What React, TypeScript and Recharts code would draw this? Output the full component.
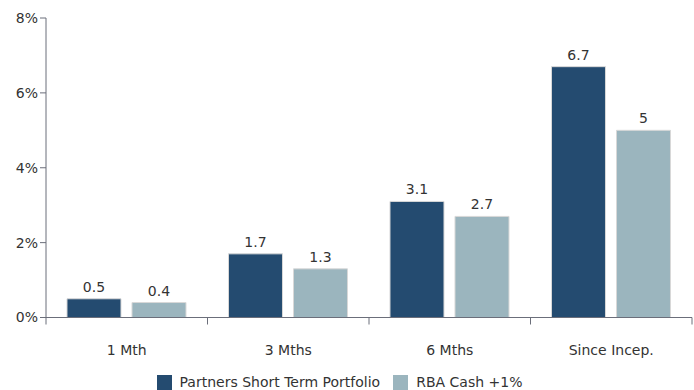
import React from "react";
import { BarChart, Bar, XAxis, YAxis, Legend, LabelList } from "recharts";

const categories = ["1 Mth", "3 Mths", "6 Mths", "Since Incep."];
const portfolio = [0.5, 1.7, 3.1, 6.7];
const rbaCash = [0.4, 1.3, 2.7, 5];
const yTicks = [0, 2, 4, 6, 8];

const data = categories.map((name, i) => ({
  name,
  portfolio: portfolio[i],
  rba: rbaCash[i],
}));

const FONT = "'DejaVu Sans', Verdana, sans-serif";
const AXIS = "#6b6e7a";
const TEXT = "#333333";
const BAND = 161.5;

const XTick = (props: any) => {
  const { x, y, payload, index } = props;
  const left = x - BAND / 2;
  return (
    <g>
      <line x1={left} y1={y - 8} x2={left} y2={y - 1} stroke={AXIS} />
      {index === categories.length - 1 && (
        <line x1={left + BAND} y1={y - 8} x2={left + BAND} y2={y - 1} stroke={AXIS} />
      )}
      <text x={x} y={y + 29} textAnchor="middle" fontSize={14} fill={TEXT} fontFamily={FONT}>
        {payload.value}
      </text>
    </g>
  );
};

const App: React.FC = () => (
  <div style={{ position: "absolute", left: 0, top: 0, fontFamily: FONT }}>
    <BarChart
      width={694}
      height={390}
      data={data}
      margin={{ top: 18, right: 2, bottom: 0, left: 0 }}
      barCategoryGap="13%"
      barGap={11}
    >
      <XAxis
        dataKey="name"
        stroke={AXIS}
        tickLine={false}
        tick={<XTick />}
        height={56}
        interval={0}
      />
      <YAxis
        domain={[0, 8]}
        ticks={yTicks}
        width={46}
        stroke={AXIS}
        tickSize={6}
        tickFormatter={(v: number) => `${v}%`}
        tick={{ fill: TEXT, fontSize: 14, fontFamily: FONT }}
      />
      <Legend
        verticalAlign="bottom"
        iconType="square"
        iconSize={15}
        wrapperStyle={{ bottom: 0, fontSize: 14, fontFamily: FONT }}
        formatter={(v: string) => (
          <span style={{ color: TEXT, paddingLeft: 4, paddingRight: 3 }}>{v}</span>
        )}
      />
      <Bar
        dataKey="portfolio"
        name="Partners Short Term Portfolio"
        fill="#244b70"
        stroke="#d8d8d8"
        isAnimationActive={false}
      >
        <LabelList dataKey="portfolio" position="top" offset={7} fill={TEXT} fontSize={14} fontFamily={FONT} />
      </Bar>
      <Bar
        dataKey="rba"
        name="RBA Cash +1%"
        fill="#9bb5be"
        stroke="#d8d8d8"
        isAnimationActive={false}
      >
        <LabelList dataKey="rba" position="top" offset={7} fill={TEXT} fontSize={14} fontFamily={FONT} />
      </Bar>
    </BarChart>
  </div>
);

export default App;
